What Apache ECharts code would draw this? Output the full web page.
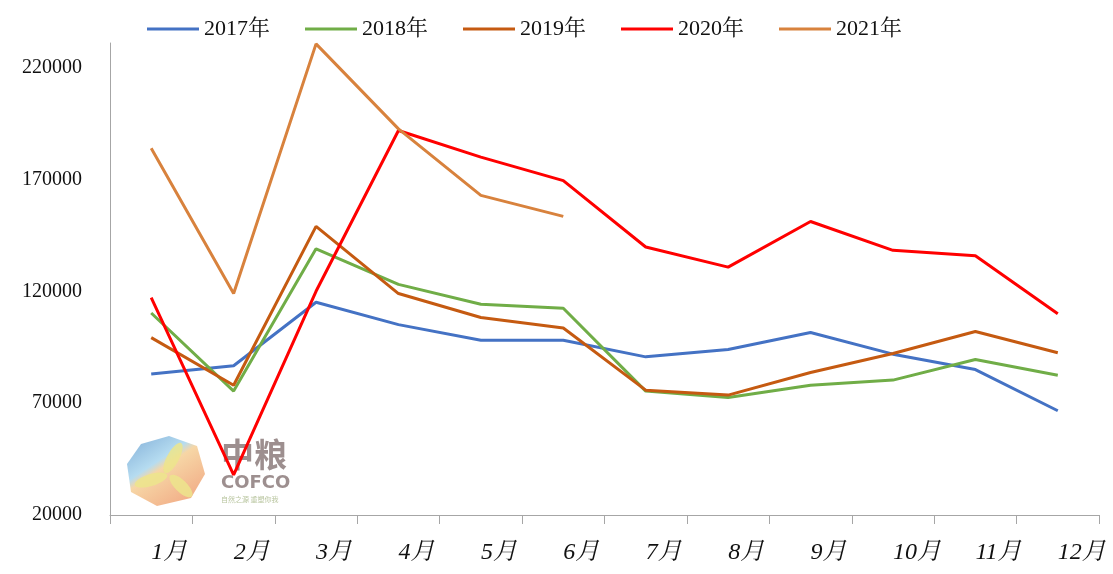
<!DOCTYPE html>
<html>
<head>
<meta charset="utf-8">
<script src="https://cdn.jsdelivr.net/npm/echarts@6/dist/echarts.min.js"></script>
<style>
  html, body { margin: 0; padding: 0; background: #fff; }
  #maychar { width: 1113px; height: 574px; }
</style>
</head>
<body>
<div id="maychar"></div>
<script>
// 月份
const months = ['1月', '2月', '3月', '4月', '5月', '6月', '7月', '8月', '9月', '10月', '11月', '12月'];
// 各年数据
const y2017 = [83000, 86700, 115100, 105100, 98100, 98100, 90700, 94000, 101600, 91900, 85000, 66600];
const y2018 = [110300, 75400, 139000, 123100, 114200, 112400, 75400, 72500, 78000, 80300, 89500, 82500];
const y2019 = [99300, 78000, 149000, 119000, 108300, 103600, 75800, 73600, 83700, 92200, 102000, 92500];
const y2020 = [117200, 37900, 120000, 191900, 180000, 169500, 139800, 130800, 151200, 138300, 135900, 110000];
const y2021 = [184000, 119000, 230600, 192600, 162900, 153500];

const serif = '"Liberation Serif", "Noto Serif CJK SC", "Noto Sans CJK SC", serif';

const machart = echarts.init(document.getElementById('maychar'));

const mkLine = (name, data, color) => ({
  name: name,
  type: 'line',
  data: data,
  symbol: 'none',
  lineStyle: { color: color, width: 3 },
  itemStyle: { color: color }
});

const petal = '#ece58c';

const option = {
  backgroundColor: '#fff',
  animation: false,
  legend: {
    left: 142,
    top: 13,
    icon: 'rect',
    itemWidth: 52,
    itemHeight: 3,
    itemGap: 35,
    textStyle: { fontFamily: serif, fontSize: 22, color: '#111' }
  },
  grid: { left: 110, right: 14, top: 43, bottom: 59 },
  // 水印 logo
  graphic: [{
    type: 'group',
    left: 127,
    top: 436,
    z: -1,
    children: [
      {
        type: 'polygon',
        shape: { points: [[14, 8], [42, 0], [70, 10], [78, 38], [64, 62], [30, 70], [4, 56], [0, 28]] },
        style: {
          fill: new echarts.graphic.LinearGradient(0, 0, 0.6, 1, [
            { offset: 0, color: '#6a9fd0' },
            { offset: 0.45, color: '#a9d6ee' },
            { offset: 0.55, color: '#f5cf96' },
            { offset: 1, color: '#f0a476' }
          ]),
          opacity: 0.85
        }
      },
      { type: 'ellipse', shape: { cx: 46, cy: 22, rx: 6, ry: 17 }, rotation: -0.5, originX: 46, originY: 22, style: { fill: petal, opacity: 0.85 } },
      { type: 'ellipse', shape: { cx: 24, cy: 44, rx: 17, ry: 6 }, rotation: 0.3, originX: 24, originY: 44, style: { fill: petal, opacity: 0.85 } },
      { type: 'ellipse', shape: { cx: 54, cy: 50, rx: 6, ry: 15 }, rotation: 0.8, originX: 54, originY: 50, style: { fill: petal, opacity: 0.85 } },
      {
        type: 'text', left: 94, top: 2,
        style: { text: '中粮', fontSize: 33, fontWeight: 'bold', fill: '#8c7b7b', fontFamily: '"Noto Sans CJK SC", sans-serif', opacity: 0.85 }
      },
      {
        type: 'text', left: 94, top: 38,
        style: { text: 'COFCO', fontSize: 18, fontWeight: 'bold', fill: '#8c7b7b', fontFamily: '"DejaVu Sans", sans-serif', opacity: 0.85 }
      },
      {
        type: 'text', left: 94, top: 60,
        style: { text: '自然之源 重塑你我', fontSize: 7, fill: '#a5b585', fontFamily: '"Noto Sans CJK SC", sans-serif', opacity: 0.8 }
      }
    ]
  }],
  xAxis: {
    type: 'category',
    data: months,
    boundaryGap: true,
    axisLine: { lineStyle: { color: '#a6a6a6', width: 1 } },
    axisTick: { show: true, length: 9, lineStyle: { color: '#a6a6a6' } },
    axisLabel: {
      align: 'left',
      margin: 26,
      fontFamily: serif,
      fontSize: 24,
      fontStyle: 'italic',
      color: '#111'
    }
  },
  yAxis: {
    type: 'value',
    min: 20000,
    max: 231000,
    interval: 50000,
    axisLine: { show: true, lineStyle: { color: '#a6a6a6', width: 1 } },
    axisTick: { show: false },
    splitLine: { show: false },
    axisLabel: {
      showMaxLabel: false,
      margin: 28,
      formatter: (v) => String(v),
      fontFamily: serif,
      fontSize: 20,
      color: '#111'
    }
  },
  series: [
    mkLine('2017年', y2017, '#4472C4'),
    mkLine('2018年', y2018, '#70AD47'),
    mkLine('2019年', y2019, '#C55A11'),
    mkLine('2020年', y2020, '#FF0000'),
    mkLine('2021年', y2021, '#D8823D')
  ]
};

machart.setOption(option);
window.addEventListener('resize', function () {
  machart.resize();
});
</script>
</body>
</html>
